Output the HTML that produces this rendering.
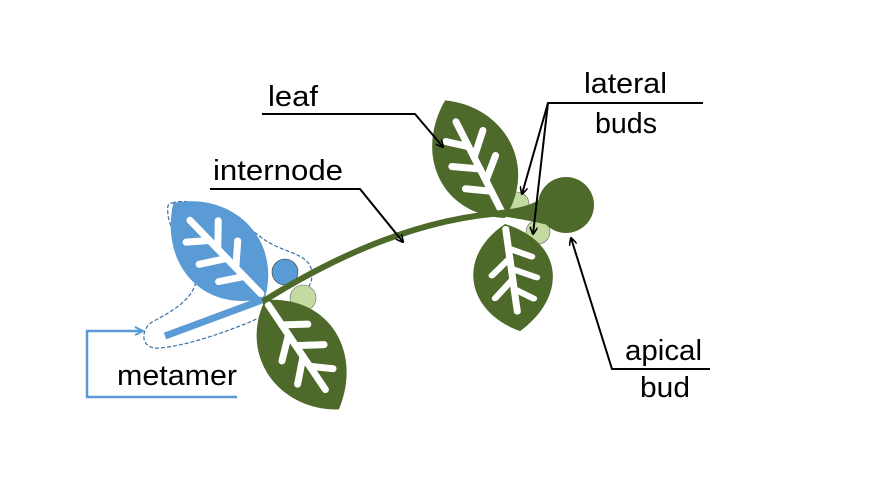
<!DOCTYPE html>
<html><head><meta charset="utf-8"><style>
html,body{margin:0;padding:0;background:#fff;}
svg{display:block;}
text{font-family:"Liberation Sans",sans-serif;font-size:29px;fill:#000;}
</style></head><body>
<svg width="875" height="492" viewBox="0 0 875 492" xmlns="http://www.w3.org/2000/svg">
<defs>
<marker id="ah" viewBox="0 0 10 10" refX="9" refY="5" markerWidth="8" markerHeight="8" orient="auto" markerUnits="userSpaceOnUse">
<path d="M0,0 L10,5 L0,10" fill="none" stroke="#000" stroke-width="2"/></marker>
<marker id="bh" viewBox="0 0 10 10" refX="9" refY="5" markerWidth="10" markerHeight="10" orient="auto" markerUnits="userSpaceOnUse">
<path d="M1,1 L9,5 L1,9" fill="none" stroke="#5b9bd5" stroke-width="2"/></marker>
<g id="leafL">
<path d="M0,0 C-56,-32 -52,-98 0,-132 C50,-100 54,-32 0,0Z"/>
</g>
<g id="veins" fill="none" stroke="#fff" stroke-width="7" stroke-linecap="round">
<path d="M0,-6 L0,-108"/>
<path d="M0,-30 L-22,-44 M0,-55 L-24,-70 M0,-80 L-18,-95 M0,-42 L20,-60 M0,-68 L20,-88"/>
</g>
</defs>

<path d="M172,203 C200,195 240,220 262,238 C285,255 312,252 312,275 C312,300 270,312 250,322 C225,332 190,345 160,348 C140,350 140,330 152,322 C175,310 190,300 195,285 C200,270 170,235 168,215 C167,205 168,204 172,203Z" fill="none" stroke="#3d6fa0" stroke-width="1.2" stroke-dasharray="4,2"/>

<circle cx="285" cy="272" r="13" fill="#5b9bd5" stroke="#333" stroke-width="0.6"/>
<circle cx="303" cy="298" r="13" fill="#c3dba0" stroke="#666" stroke-width="0.6"/>
<circle cx="517" cy="204" r="12" fill="#c3dba0" stroke="#666" stroke-width="0.6"/>
<circle cx="538" cy="232" r="12" fill="#c3dba0" stroke="#666" stroke-width="0.6"/>

<g transform="translate(265,298) rotate(-44)" fill="#5b9bd5"><use href="#leafL"/><use href="#veins"/></g>
<g transform="translate(265,300) rotate(146)" fill="#4e6a2b"><use href="#leafL"/><use href="#veins"/></g>
<g transform="translate(505,218) rotate(-27)" fill="#4e6a2b"><use href="#leafL"/><use href="#veins"/></g>
<g transform="translate(505,224) rotate(172) scale(1,0.82)" fill="#4e6a2b"><use href="#leafL"/><use href="#veins"/></g>

<path d="M262,302 Q400,215 520,212" fill="none" stroke="#4e6a2b" stroke-width="6"/>
<path d="M500,210 Q530,208 545,196 L560,228 Q530,220 500,216Z" fill="#4e6a2b"/>
<circle cx="566" cy="205" r="28" fill="#4e6a2b"/>

<line x1="165" y1="336" x2="262" y2="300" stroke="#5b9bd5" stroke-width="7"/>

<text x="268" y="106" textLength="50" lengthAdjust="spacingAndGlyphs">leaf</text>
<polyline points="262,114 415,114 443,147" fill="none" stroke="#000" stroke-width="2" marker-end="url(#ah)"/>
<text x="213" y="180" textLength="130" lengthAdjust="spacingAndGlyphs">internode</text>
<polyline points="210,189 360,189 403,242" fill="none" stroke="#000" stroke-width="2" marker-end="url(#ah)"/>
<text x="584" y="93" textLength="83" lengthAdjust="spacingAndGlyphs">lateral</text>
<text x="595" y="133" textLength="62" lengthAdjust="spacingAndGlyphs">buds</text>
<polyline points="703,103 548,103 522,194" fill="none" stroke="#000" stroke-width="2" marker-end="url(#ah)"/>
<line x1="548" y1="103" x2="533" y2="234" stroke="#000" stroke-width="2" marker-end="url(#ah)"/>
<text x="625" y="360" textLength="77" lengthAdjust="spacingAndGlyphs">apical</text>
<text x="640" y="397" textLength="50" lengthAdjust="spacingAndGlyphs">bud</text>
<polyline points="710,369 612,369 571,238" fill="none" stroke="#000" stroke-width="2" marker-end="url(#ah)"/>
<text x="117" y="385" textLength="120" lengthAdjust="spacingAndGlyphs">metamer</text>
<polyline points="237,397 87,397 87,331 143,331" fill="none" stroke="#5b9bd5" stroke-width="2.5" marker-end="url(#bh)"/>
</svg>
</body></html>
